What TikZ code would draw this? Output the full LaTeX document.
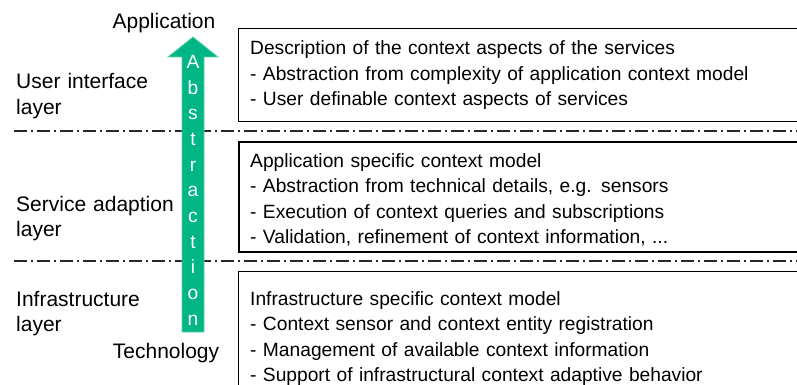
\documentclass[tikz,border=0pt]{standalone}
\usepackage{fontspec}
\setmainfont{Liberation Sans}
\definecolor{abscol}{RGB}{0,182,132}
\definecolor{absedge}{RGB}{95,208,168}
\definecolor{sepcol}{RGB}{40,40,40}

\begin{document}
\begin{tikzpicture}[x=1pt, y=-1pt,
  every node/.style={inner sep=0pt, font=\fontsize{19.2}{25.5}\selectfont},
  layerbox/.style={draw, line width=1pt, anchor=north west, minimum width=600pt},
  boxtext/.style={anchor=base west, text width=540pt, align=left},
  sidetext/.style={anchor=base west, text width=200pt, align=left, font=\fontsize{21}{25}\selectfont},
  sidelabel/.style={anchor=base, font=\fontsize{21}{25}\selectfont},
  absletter/.style={anchor=base, text=white},
  separator/.style={draw=sepcol, line width=1.2pt, dash pattern=on 13pt off 4pt on 2pt off 4pt}]
  % fester Rahmen, Kasten rechts und unten angeschnitten
  \useasboundingbox (0,0) rectangle (797,385);
  \clip (0,0) rectangle (797,385);

  % Trennlinien zwischen den Schichten
  \draw[separator] (14,131) -- (797,131);
  \draw[separator] (14,261) -- (797,261);

  % Pfeil der Abstraktion
  \fill[abscol, draw=absedge, line width=0.8pt]
    (182,332) -- (182,57) -- (168,57) -- (193,37) -- (218,57) -- (204,57) -- (204,332) -- cycle;
  \foreach \ch [count=\i] in {A,b,s,t,r,a,c,t,i,o,n}
    \node[absletter] (abs\i) at (193,{68.5+25.65*(\i-1)}) {\ch};
  \node[sidelabel] (app) at (164,29) {Application};
  \node[sidelabel] (tech) at (166,358) {Technology};

  % Schichten links
  \node[sidetext] (uilayer) at (16,89) {User interface\\layer};
  \node[sidetext] (salayer) at (16,211) {Service adaption\\layer};
  \node[sidetext] (inlayer) at (16,306) {Infrastructure\\layer};

  % Kaesten rechts
  \node[layerbox, minimum height=93pt] (uibox) at (238,28) {};
  \node[layerbox, line width=1.8pt, minimum height=110pt] (sabox) at (238,141) {};
  \node[layerbox, minimum height=200pt] (inbox) at (238,271) {};

  \node[boxtext] (uitext) at (250,55) {Description of the context aspects of the services\\
    - Abstraction from complexity of application context model\\
    - User definable context aspects of services};
  \node[boxtext] (satext) at (250,167) {Application specific context model\\
    - Abstraction from technical details, e.g. sensors\\
    - Execution of context queries and subscriptions\\
    - Validation, refinement of context information, ...};
  \node[boxtext] (intext) at (250,305) {Infrastructure specific context model\\
    - Context sensor and context entity registration\\
    - Management of available context information\\
    - Support of infrastructural context adaptive behavior};
\end{tikzpicture}
\end{document}
